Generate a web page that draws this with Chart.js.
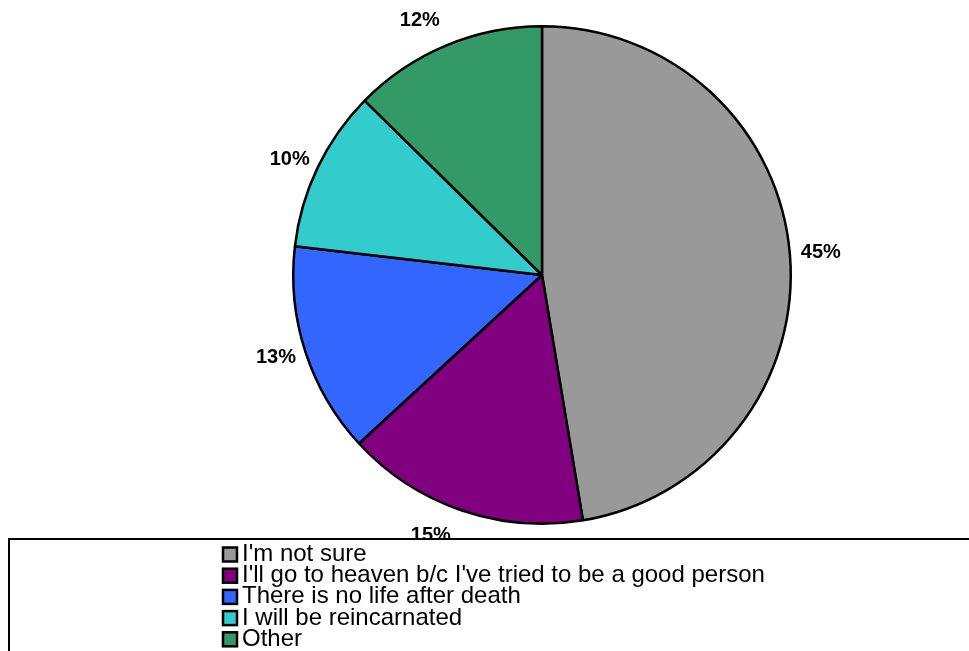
<!DOCTYPE html>
<html>
<head>
<meta charset="utf-8">
<script src="https://cdn.jsdelivr.net/npm/chart.js@4"></script>
<style>
  html, body { margin: 0; padding: 0; background: #fff; }
  #wrap { width: 969px; height: 651px; position: relative; }
</style>
</head>
<body>
<div id="wrap"><canvas id="pieChart"></canvas></div>
<script>
const categories = [
  "I'm not sure",
  "I'll go to heaven b/c I've tried to be a good person",
  "There is no life after death",
  "I will be reincarnated",
  "Other"
];
const values = [45, 15, 13, 10, 12];
const colors = ['#999999', '#800080', '#3366FF', '#33CCCC', '#339966'];

// percent labels outside each slice, kept inside the plot area
const outsideLabels = {
  id: 'outsideLabels',
  afterDatasetsDraw(chart) {
    const ctx = chart.ctx;
    const meta = chart.getDatasetMeta(0);
    ctx.save();
    ctx.font = 'bold 20px "Liberation Sans", Arial, sans-serif';
    ctx.fillStyle = '#000';
    ctx.textAlign = 'center';
    ctx.textBaseline = 'middle';
    meta.data.forEach(function(arc, i) {
      const text = values[i] + '%';
      const w = ctx.measureText(text).width;
      const h = 14;
      const mid = (arc.startAngle + arc.endAngle) / 2;
      const cx = Math.cos(mid), cy = Math.sin(mid);
      const rr = arc.outerRadius + 34;
      let x = arc.x + cx * (arc.outerRadius + 11) + cx * w / 2;
      let y = arc.y + cy * (arc.outerRadius + 11) + cy * h / 2;
      const minY = 20, maxY = 535;
      const ry = arc.y + cy * rr;
      if (ry < minY || ry > maxY) {
        // slide along the ring so the label stays inside the plot area
        y = Math.min(Math.max(ry, minY), maxY);
        const dy = y - arc.y;
        const dx = Math.sqrt(Math.max(rr * rr - dy * dy, 0));
        x = arc.x + (cx < 0 ? -dx : dx);
      }
      ctx.fillText(text, x, y);
    });
    ctx.restore();
  }
};

// boxed legend at the bottom
const boxLegend = {
  id: 'boxLegend',
  afterDraw(chart) {
    const ctx = chart.ctx;
    ctx.save();
    ctx.fillStyle = '#fff';
    ctx.fillRect(9, 539, 980, 130);
    ctx.strokeStyle = '#000';
    ctx.lineWidth = 2;
    ctx.strokeRect(9, 539, 1000, 200);
    ctx.font = '24px "Liberation Sans", Arial, sans-serif';
    ctx.textBaseline = 'alphabetic';
    categories.forEach(function(label, i) {
      const y = 554.5 + i * 21.2;
      ctx.fillStyle = colors[i];
      ctx.fillRect(223, y - 7, 14, 14);
      ctx.strokeStyle = '#000';
      ctx.lineWidth = 2.5;
      ctx.strokeRect(223, y - 7, 14, 14);
      ctx.fillStyle = '#000';
      ctx.fillText(label, 242, y + 6.5);
    });
    ctx.restore();
  }
};

new Chart(document.getElementById('pieChart'), {
  type: 'pie',
  data: {
    labels: categories,
    datasets: [{
      data: values,
      backgroundColor: colors,
      borderColor: '#000',
      borderWidth: 2.5
    }]
  },
  options: {
    responsive: true,
    maintainAspectRatio: false,
    animation: false,
    layout: {
      padding: { left: 291, right: 176, top: 25, bottom: 126 }
    },
    plugins: {
      legend: { display: false },
      tooltip: { enabled: false }
    }
  },
  plugins: [outsideLabels, boxLegend]
});
</script>
</body>
</html>
